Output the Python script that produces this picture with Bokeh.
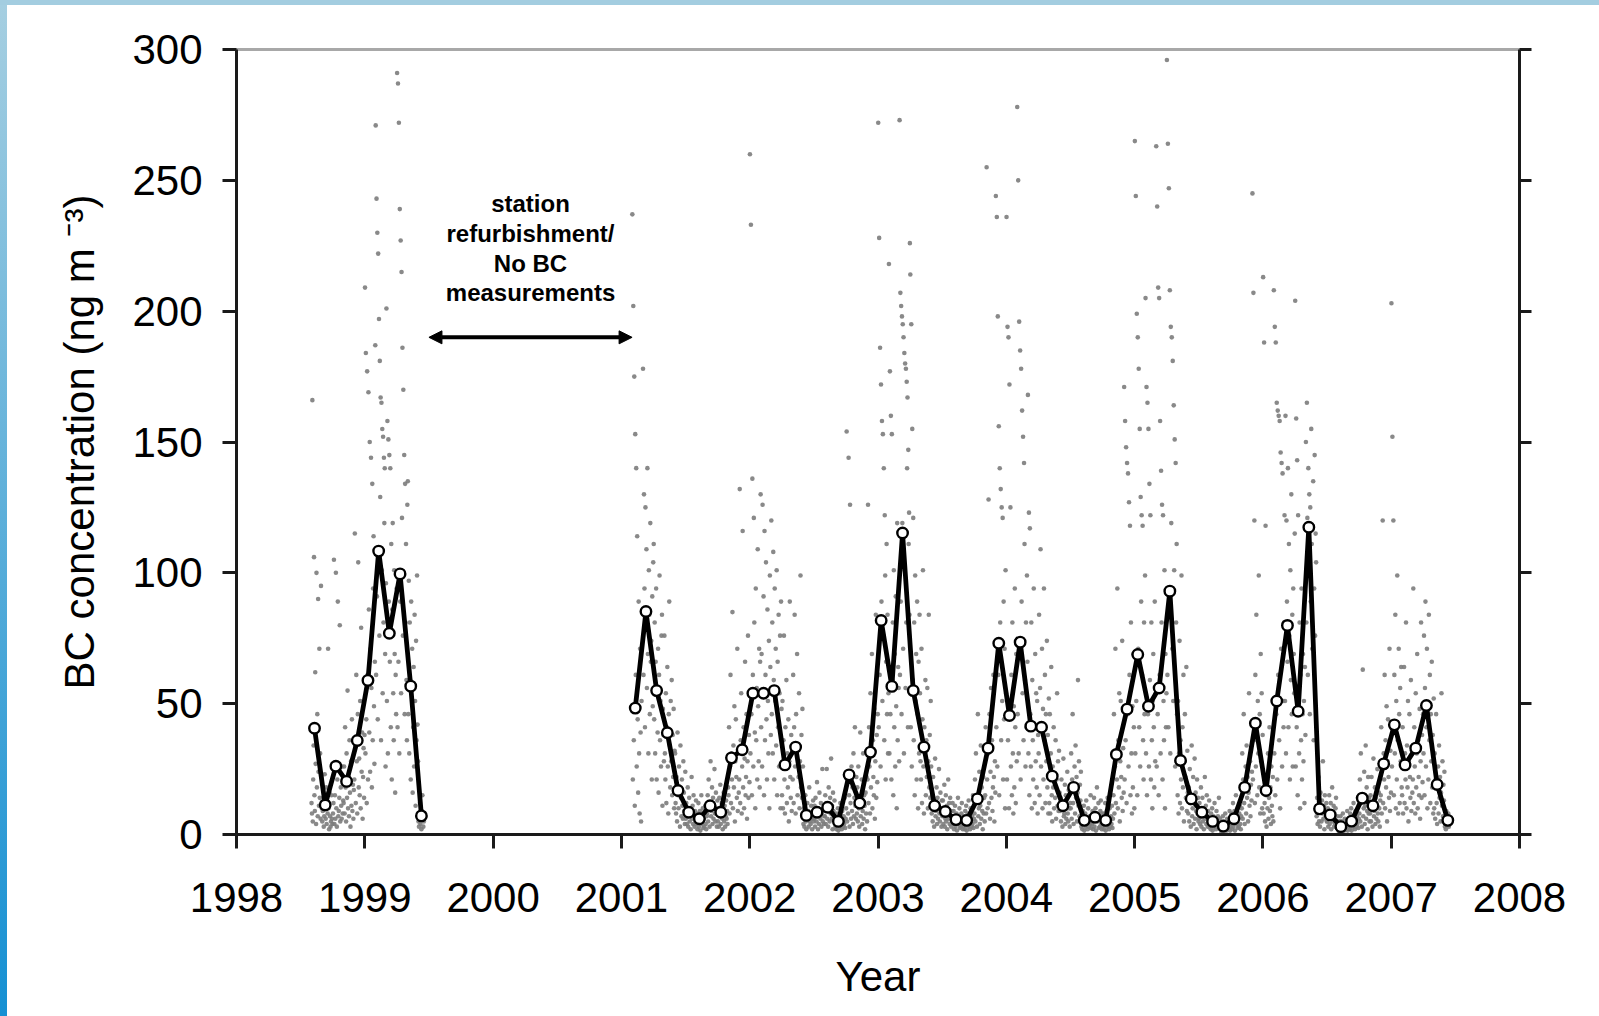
import numpy as np
import pandas as pd
from bokeh.plotting import figure
from bokeh.models import LinearAxis, Range1d, FixedTicker, Arrow, NormalHead
from bokeh.embed import file_html
from bokeh.resources import INLINE
from bokeh.core.properties import value

# ---------------------------------------------------------------- data
# Monthly mean BC concentration (ng m-3), before and after the refurbishment gap
months_a = ["1998-08", "1998-09", "1998-10", "1998-11", "1998-12", "1999-01",
            "1999-02", "1999-03", "1999-04", "1999-05", "1999-06"]
monthly_a = [40.6, 11.3, 26.1, 20.3, 35.9, 58.9, 108.3, 76.9, 99.6, 56.7, 7.1]

first_month_b, last_month_b = "2001-02", "2007-06"
monthly_b = [
    48.3, 85.2, 55.0, 38.9, 16.8, 8.5, 6.0, 11.0, 8.5, 29.3, 32.4,          # 2001
    54.0, 54.0, 55.0, 26.6, 33.4, 7.3, 8.5, 10.4, 5.0, 22.8, 12.0, 31.5,    # 2002
    81.8, 56.6, 115.2, 55.0, 33.4, 11.0, 8.8, 5.7, 5.4, 13.6, 33.0, 73.1,   # 2003
    45.5, 73.5, 41.4, 41.0, 22.3, 11.0, 18.0, 5.4, 6.6, 5.4, 30.6, 47.9,    # 2004
    68.8, 49.0, 56.0, 93.0, 28.3, 13.6, 8.5, 5.0, 3.2, 6.0, 18.0, 42.5,     # 2005
    16.8, 51.0, 79.9, 47.1, 117.4, 9.8, 7.5, 3.0, 5.1, 13.9, 11.0, 27.0,    # 2006
    41.9, 26.6, 33.0, 49.3, 19.1, 5.4,                                      # 2007
]

# Daily BC values, one list per month
daily_1998_99 = [
    [12, 8, 166, 5, 21, 34, 106, 15, 9, 62, 27, 4, 100, 18, 46, 7, 90, 24, 11, 71, 14, 31, 6, 95, 22, 10],
    [5, 9, 14, 3, 7, 23, 11, 6, 18, 4, 12, 8, 71, 10, 2, 16, 7, 3, 5, 15, 6, 4],
    [8, 12, 105, 4, 15, 6, 100, 10, 3, 21, 89, 7, 9, 14, 80, 5, 18, 11, 6, 26, 8, 13],
    [12, 26, 8, 41, 18, 5, 31, 14, 55, 10, 22, 7, 36, 16, 3, 28, 11, 44, 9, 19, 6, 17],
    [21, 115, 34, 12, 61, 28, 8, 46, 104, 18, 29, 15, 51, 10, 79, 24, 39, 6, 22, 33, 14, 38],
    [209, 31, 184, 44, 12, 177, 61, 21, 169, 86, 39, 150, 24, 71, 144, 56, 18, 134, 36, 94, 114, 49, 27, 66, 187],
    [271, 61, 243, 91, 230, 44, 222, 109, 197, 76, 181, 129, 167, 36, 165, 101, 155, 54, 152, 81, 144, 119, 140, 69, 26, 96],
    [201, 51, 158, 31, 151, 89, 145, 66, 140, 41, 111, 21, 86, 119, 54, 36, 101, 69, 16, 61, 46, 94],
    [291, 41, 287, 66, 272, 31, 239, 89, 227, 54, 215, 121, 186, 76, 170, 99, 145, 46, 134, 81, 111, 59, 36, 126],
    [135, 46, 97, 31, 81, 59, 21, 89, 56, 71, 16, 41, 64, 26, 84, 51, 11, 74, 36, 99, 42, 28],
    [5, 3, 8, 12, 4, 6, 2, 9, 15, 7, 3, 5],
]

daily_2001 = [
    [237, 21, 202, 36, 175, 11, 153, 61, 140, 26, 114, 44, 16, 89, 31, 8, 71, 39, 5, 51],
    [178, 61, 130, 94, 41, 125, 81, 109, 56, 140, 69, 31, 101, 84, 46, 119, 66, 74, 21, 91, 49, 104],
    [111, 44, 81, 31, 66, 94, 21, 56, 39, 71, 16, 61, 99, 36, 51, 26, 76, 84, 11, 48, 38, 28],
    [76, 31, 21, 54, 12, 41, 64, 26, 8, 46, 89, 34, 18, 51, 28, 59, 15, 38, 22, 48, 10, 32],
    [31, 12, 8, 22, 5, 39, 15, 10, 26, 18, 3, 34, 14, 7, 21, 11, 6, 28, 16, 9, 4, 24],
    [6, 12, 4, 9, 18, 3, 7, 14, 5, 10, 2, 8, 22, 6, 11, 4, 15, 7, 3, 9, 5, 13],
    [4, 8, 2, 5, 12, 3, 6, 9, 1.5, 7, 15, 4, 5, 10, 2.5, 6, 3, 8, 11, 4, 2, 7],
    [8, 15, 5, 21, 10, 3, 12, 28, 7, 9, 18, 4, 14, 6, 11, 25, 8, 5, 16, 10, 3, 13],
    [5, 10, 3, 14, 7, 19, 4, 9, 12, 6, 2, 8, 16, 5, 11, 3, 7, 13, 6, 9, 4, 18],
    [15, 41, 8, 26, 61, 12, 31, 21, 85, 10, 34, 18, 49, 5, 28, 44, 22, 14, 71, 9, 32, 16],
    [21, 132, 12, 36, 54, 8, 26, 116, 18, 41, 10, 29, 66, 15, 22, 46, 6, 28, 76, 14, 38, 20],
]

daily_2002 = [
    [260, 31, 233, 46, 15, 136, 61, 26, 121, 81, 39, 10, 94, 36, 56, 21, 109, 49, 28, 71, 18, 66],
    [130, 41, 69, 26, 126, 54, 91, 15, 116, 36, 61, 104, 44, 21, 86, 51, 31, 74, 10, 99, 64, 38],
    [120, 46, 81, 31, 108, 59, 21, 94, 51, 71, 34, 101, 15, 66, 41, 84, 26, 54, 76, 10, 89, 48],
    [15, 51, 10, 36, 76, 21, 8, 41, 26, 59, 12, 31, 18, 44, 5, 28, 89, 22, 14, 38, 9, 32],
    [21, 61, 12, 41, 84, 26, 8, 46, 31, 69, 15, 34, 22, 54, 10, 28, 99, 18, 38, 14, 48, 26],
    [4, 10, 3, 8, 15, 5, 2, 7, 12, 6, 9, 3, 18, 5, 8, 4, 11, 6, 2, 7, 13, 5],
    [6, 11, 3, 14, 8, 5, 20, 7, 2, 10, 4, 16, 9, 6, 12, 3, 8, 25, 5, 9, 4, 7],
    [7, 15, 4, 12, 25, 6, 9, 3, 18, 10, 5, 14, 8, 29, 6, 11, 2, 16, 9, 7, 13, 5],
    [3, 6, 2, 8, 4, 10, 1.5, 5, 7, 3, 12, 4, 6, 2, 9, 5, 3, 7, 4, 14, 2.5, 6],
    [10, 154, 5, 21, 8, 144, 15, 3, 126, 12, 6, 26, 9, 18, 4, 31, 7, 14, 41, 11, 6, 22],
    [8, 18, 5, 26, 10, 3, 14, 39, 7, 12, 21, 4, 9, 31, 6, 15, 11, 2, 16, 8, 22, 5],
    [21, 126, 12, 41, 26, 8, 54, 18, 31, 69, 10, 36, 22, 15, 48, 6, 28, 84, 14, 38, 20, 46],
]

daily_2003 = [
    [272, 41, 228, 61, 186, 26, 172, 89, 158, 51, 153, 76, 140, 36, 122, 99, 21, 66, 111, 46, 84, 31, 54],
    [218, 31, 177, 46, 160, 21, 153, 59, 81, 15, 101, 41, 69, 26, 91, 49, 10, 119, 36, 64, 56, 28],
    [273, 61, 207, 89, 202, 46, 198, 119, 195, 71, 190, 31, 184, 101, 180, 56, 178, 81, 173, 140, 167, 41,
     147, 111, 123, 84, 226],
    [214, 41, 195, 26, 155, 59, 121, 36, 81, 15, 99, 51, 69, 21, 89, 46, 10, 66, 31, 84, 54, 28],
    [21, 71, 12, 44, 101, 26, 8, 41, 31, 59, 15, 36, 22, 56, 10, 28, 84, 18, 38, 14, 51, 26],
    [8, 15, 5, 22, 10, 3, 12, 29, 7, 9, 18, 4, 14, 6, 11, 25, 8, 5, 16, 10, 3, 13],
    [7, 13, 4, 10, 19, 3, 6, 15, 5, 11, 2, 8, 21, 6, 12, 4, 14, 7, 3, 9, 5, 12],
    [4, 9, 2, 5, 11, 3, 6, 8, 1.5, 7, 14, 4, 5, 10, 2.5, 6, 3, 8, 12, 4, 2, 7],
    [3, 7, 2, 9, 4, 11, 1.5, 5, 8, 3, 13, 4, 6, 2, 10, 5, 3, 7, 4, 15, 2.5, 6],
    [8, 21, 5, 31, 12, 3, 15, 46, 7, 10, 24, 4, 11, 34, 6, 18, 9, 2, 22, 8, 14, 5],
    [15, 41, 8, 255, 21, 10, 31, 128, 12, 46, 6, 24, 56, 14, 36, 9, 18, 61, 22, 5, 28, 16],
    [244, 41, 236, 26, 198, 61, 156, 15, 140, 81, 132, 36, 125, 51, 121, 21, 89, 44, 71, 10, 101, 54],
]

daily_2004 = [
    [236, 21, 194, 36, 190, 10, 172, 46, 125, 26, 61, 15, 81, 31, 8, 49, 18, 94, 41, 12, 69, 28],
    [278, 46, 250, 31, 196, 71, 185, 21, 178, 89, 162, 54, 152, 36, 142, 111, 59, 26, 81, 41, 99, 66],
    [168, 31, 123, 15, 117, 46, 26, 81, 10, 59, 36, 21, 94, 41, 12, 69, 28, 54, 18, 51, 8, 38],
    [31, 84, 15, 56, 109, 26, 41, 71, 10, 48, 21, 94, 36, 61, 12, 46, 28, 74, 18, 38, 8, 52],
    [12, 46, 8, 31, 64, 15, 5, 26, 18, 41, 10, 22, 14, 36, 6, 21, 54, 11, 28, 9, 32, 16],
    [9, 14, 5, 21, 11, 3, 12, 29, 7, 8, 19, 4, 15, 6, 10, 24, 8, 5, 17, 10, 3, 12],
    [10, 31, 6, 21, 46, 12, 4, 18, 26, 8, 34, 14, 22, 5, 16, 59, 11, 28, 7, 19, 13, 24],
    [3, 7, 2, 9, 4, 11, 1.5, 5, 8, 3, 13, 4, 6, 2, 10, 5, 3, 7, 4, 15, 2.5, 6],
    [4, 9, 2, 6, 14, 3, 7, 10, 1.5, 8, 18, 5, 6, 12, 2.5, 7, 3, 9, 13, 4, 2, 8],
    [3, 6, 2, 8, 4, 12, 1.5, 5, 9, 3, 14, 4, 6, 2, 10, 5, 3, 7, 4, 11, 2.5, 6],
    [15, 46, 8, 26, 71, 12, 31, 21, 94, 10, 36, 18, 54, 5, 28, 51, 22, 14, 74, 9, 33, 16],
    [171, 21, 158, 36, 148, 12, 142, 46, 138, 26, 127, 61, 118, 15, 81, 31, 8, 49, 18, 69, 41, 10],
]

daily_2005 = [
    [265, 31, 244, 51, 199, 15, 190, 71, 178, 41, 155, 26, 129, 89, 122, 61, 118, 36, 21, 81, 46, 99],
    [205, 31, 171, 15, 165, 46, 155, 26, 134, 59, 122, 21, 81, 36, 10, 51, 69, 41, 18, 89, 28, 54],
    [263, 26, 240, 46, 209, 15, 205, 61, 158, 31, 139, 81, 126, 21, 122, 51, 36, 101, 10, 69, 41, 54],
    [296, 61, 264, 41, 247, 89, 208, 31, 194, 119, 190, 71, 181, 51, 164, 101, 151, 26, 142, 81, 111, 46],
    [15, 51, 8, 31, 74, 12, 36, 21, 99, 10, 41, 18, 61, 5, 28, 46, 22, 14, 64, 9, 32, 16],
    [8, 18, 5, 25, 12, 3, 15, 34, 7, 10, 22, 4, 13, 29, 6, 16, 9, 2, 21, 8, 14, 5],
    [6, 12, 4, 9, 18, 3, 7, 14, 5, 10, 2, 8, 22, 6, 11, 4, 15, 7, 3, 9, 5, 13],
    [3, 6, 2, 8, 4, 10, 1.5, 5, 7, 3, 12, 4, 6, 2, 9, 5, 3, 7, 4, 14, 2.5, 6],
    [2, 4, 1, 5, 3, 7, 1, 3, 5, 2, 8, 2.5, 4, 1.5, 6, 3, 2, 4, 2, 9, 1.5, 3],
    [4, 8, 2, 5, 12, 3, 6, 9, 1.5, 7, 15, 4, 5, 10, 2.5, 6, 3, 8, 11, 4, 2, 7],
    [10, 31, 6, 21, 46, 12, 4, 18, 26, 8, 34, 14, 22, 5, 16, 54, 11, 28, 7, 19, 13, 24],
    [245, 21, 207, 36, 120, 12, 61, 26, 84, 41, 15, 51, 31, 99, 18, 46, 8, 69, 28, 54, 10, 38],
]

daily_2006 = [
    [213, 8, 188, 12, 5, 118, 15, 3, 21, 10, 31, 6, 14, 41, 9, 18, 4, 26, 11, 7, 22, 5],
    [208, 31, 194, 15, 188, 46, 165, 21, 162, 61, 160, 36, 158, 10, 146, 71, 142, 26, 138, 51, 41, 81],
    [122, 51, 160, 31, 120, 89, 66, 140, 41, 111, 76, 21, 101, 59, 130, 46, 84, 26, 94, 69, 54, 115],
    [204, 26, 159, 41, 143, 15, 122, 56, 31, 81, 10, 61, 36, 94, 21, 46, 69, 28, 51, 12, 64, 38],
    [150, 81, 165, 121, 61, 140, 99, 130, 46, 125, 89, 155, 111, 71, 118, 135, 36, 94, 145, 76, 115, 104],
    [7, 14, 4, 11, 22, 5, 9, 3, 16, 10, 5, 13, 8, 28, 6, 11, 2, 15, 9, 7, 12, 5],
    [5, 10, 3, 8, 15, 4, 6, 12, 2, 9, 18, 5, 7, 11, 3, 8, 4, 10, 14, 5, 2.5, 7],
    [2, 4, 1, 5, 3, 7, 1, 3, 5, 2, 8, 2.5, 4, 1.5, 6, 3, 2, 4, 2, 9, 1.5, 3],
    [3, 6, 2, 8, 4, 10, 1.5, 5, 7, 3, 12, 4, 6, 2, 9, 5, 3, 7, 4, 14, 2.5, 6],
    [8, 21, 5, 31, 12, 3, 15, 63, 7, 10, 24, 4, 11, 34, 6, 18, 9, 2, 22, 8, 14, 5],
    [8, 15, 5, 22, 10, 3, 12, 29, 7, 9, 18, 4, 14, 6, 11, 25, 8, 5, 16, 10, 3, 13],
    [15, 41, 8, 26, 120, 12, 31, 21, 61, 10, 36, 18, 49, 5, 28, 44, 22, 14, 71, 9, 32, 16],
]

daily_2007 = [
    [203, 26, 152, 41, 120, 15, 61, 31, 84, 10, 51, 21, 99, 36, 8, 71, 46, 12, 56, 28, 64, 18],
    [15, 41, 8, 26, 64, 12, 31, 21, 81, 10, 34, 18, 51, 5, 28, 46, 22, 14, 59, 9, 32, 16],
    [21, 94, 12, 41, 26, 8, 54, 18, 31, 69, 10, 36, 22, 15, 48, 6, 28, 81, 14, 38, 20, 46],
    [31, 76, 15, 56, 89, 26, 41, 71, 10, 48, 21, 84, 36, 61, 12, 46, 28, 66, 18, 38, 8, 52],
    [10, 31, 6, 21, 46, 12, 4, 18, 26, 8, 34, 14, 22, 5, 16, 54, 11, 28, 7, 19, 13, 24],
    [3, 7, 2, 9, 4, 6, 5, 8, 3, 4],
]

year_ticks = list(range(1998, 2009))
bc_ticks = list(range(0, 301, 50))
gap_note = "station\nrefurbishment/\nNo BC\nmeasurements"

# ---------------------------------------------------------------- helpers
def month_start(label):
    """Decimal year at the first day of a 'YYYY-MM' month."""
    y, m = (int(v) for v in str(label).split("-"))
    return y + (m - 1) / 12.0

MEAN_DAY = 9  # monthly means are drawn at the 10th of the month

months_b = [str(p) for p in pd.period_range(first_month_b, last_month_b, freq="M")]
daily_b = daily_2001 + daily_2002 + daily_2003 + daily_2004 + daily_2005 + daily_2006 + daily_2007
assert len(months_b) == len(monthly_b) == len(daily_b)
assert len(months_a) == len(monthly_a) == len(daily_1998_99)

def daily_points(months, daily):
    xs, ys = [], []
    for label, vals in zip(months, daily):
        start = month_start(label)
        step = (1 / 12.0) / max(len(vals), 22)
        for i, v in enumerate(vals):
            xs.append(start + (i + 0.5) * step)
            ys.append(v)
    return xs, ys

dx_a, dy_a = daily_points(months_a, daily_1998_99)
dx_b, dy_b = daily_points(months_b, daily_b)

mx_a = [month_start(m) + MEAN_DAY / 365.0 for m in months_a]
mx_b = [month_start(m) + MEAN_DAY / 365.0 for m in months_b]

# ---------------------------------------------------------------- figure
FONT = "Liberation Sans"
INK = "#1a1a1a"

p = figure(width=1599, height=1016,
           x_range=Range1d(year_ticks[0], year_ticks[-1]),
           y_range=Range1d(bc_ticks[0], bc_ticks[-1]),
           output_backend="svg", toolbar_location=None,
           min_border_left=236, min_border_right=80,
           min_border_top=49, min_border_bottom=182)

p.styles = {
    "background": ("linear-gradient(#a3cde0, #a3cde0) top left / 100% 5px no-repeat, "
                   "linear-gradient(to bottom, #a6cfe1, #1590d3) top left / 7px 100% no-repeat, "
                   "#ffffff"),
}
p.border_fill_color = None
p.background_fill_color = "white"
p.outline_line_color = "#a8a8a8"
p.outline_line_width = 3
p.xgrid.visible = False
p.ygrid.visible = False

for ax in (p.xaxis[0], p.yaxis[0]):
    ax.axis_line_color = INK
    ax.axis_line_width = 3
    ax.major_tick_line_color = INK
    ax.major_tick_line_width = 3
    ax.major_tick_out = 14
    ax.major_tick_in = 0
    ax.minor_tick_line_color = None
    ax.major_label_text_font = FONT
    ax.major_label_text_font_size = "42px"
    ax.major_label_text_color = "black"
    ax.axis_label_text_font = FONT
    ax.axis_label_text_font_size = "42px"
    ax.axis_label_text_font_style = "normal"
    ax.axis_label_text_color = "black"

p.xaxis.ticker = FixedTicker(ticks=year_ticks)
p.xaxis.major_label_standoff = 34
p.xaxis.axis_label = "Year"
p.xaxis.axis_label_standoff = 38

p.yaxis.ticker = FixedTicker(ticks=bc_ticks)
p.yaxis.major_label_standoff = 20
p.yaxis.axis_label = "BC concentration (ng m \u207b\u00b3)"
p.yaxis.axis_label_standoff = 26

# right-hand axis: tick marks only (drawn as minor ticks so no labels are produced)
right = LinearAxis(ticker=FixedTicker(ticks=[], minor_ticks=bc_ticks),
                   axis_line_color=INK, axis_line_width=3,
                   minor_tick_line_color=INK, minor_tick_line_width=3,
                   minor_tick_out=12, minor_tick_in=0,
                   major_tick_line_color=None)
p.add_layout(right, "right")

# daily values
p.scatter(dx_a + dx_b, dy_a + dy_b, size=4.6, fill_color="#7c7c7c",
          line_color=None, fill_alpha=0.9)

# monthly means
for mx, my in ((mx_a, monthly_a), (mx_b, monthly_b)):
    p.line(mx, my, line_color="black", line_width=4.8, line_join="round")
    p.scatter(mx, my, size=10.5, fill_color="white", line_color="black", line_width=2.4)

# measurement gap: arrow spans from the end of the first record to the start of the second
gap_start = month_start(months_a[-1]) + 1 / 12.0
gap_end = month_start(months_b[0])
p.add_layout(Arrow(x_start=gap_start, x_end=gap_end, y_start=190, y_end=190,
                   line_width=4, line_color="black",
                   start=NormalHead(size=13, fill_color="black", line_color="black"),
                   end=NormalHead(size=13, fill_color="black", line_color="black")))
p.text(x=[(gap_start + gap_end) / 2], y=[224], text=[gap_note],
       text_font=value(FONT), text_font_style="bold", text_font_size="24px",
       text_align="center", text_baseline="middle", text_line_height=1.1,
       text_color="black")

open("out.html", "w").write(file_html(p, INLINE))
